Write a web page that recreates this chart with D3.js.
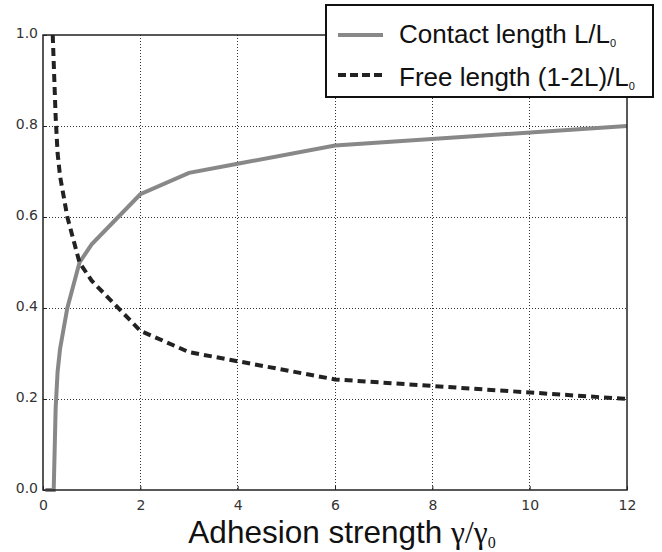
<!DOCTYPE html>
<html>
<head>
<meta charset="utf-8">
<script src="https://cdn.jsdelivr.net/npm/d3@7"></script>
<style>
  body { margin: 0; background: #fff; }
  svg { display: block; }
</style>
</head>
<body>
<svg id="chart" width="662" height="552"></svg>
<script>
// adhesion strength gamma/gamma0 (x values)
const gamma = [0.05, 0.22, 0.26, 0.3, 0.35, 0.5, 0.75, 1, 2, 3, 4, 6, 12];
// contact length L/L0
const contact = [0, 0, 0.18, 0.26, 0.31, 0.40, 0.50, 0.54, 0.65, 0.697, 0.717, 0.757, 0.80];
// free length (1-2L)/L0
const freeGamma = [0.2, 0.26, 0.3, 0.35, 0.5, 0.75, 1, 2, 3, 4, 6, 12];
const freeLen = [1.0, 0.82, 0.74, 0.69, 0.60, 0.50, 0.46, 0.35, 0.303, 0.283, 0.243, 0.20];

const xTicks = [0, 2, 4, 6, 8, 10, 12];
const yTicks = [0, 0.2, 0.4, 0.6, 0.8, 1.0];

const svg = d3.select("#chart");

// plot area
const box = {left: 43, right: 627, top: 35, bottom: 490};

const x = d3.scaleLinear().domain([0, 12]).range([box.left, box.right]);
const y = d3.scaleLinear().domain([0, 1]).range([box.bottom, box.top]);

// grid lines (dotted)
const grid = svg.append("g").attr("class", "grid")
  .attr("shape-rendering", "crispEdges");
grid.selectAll("line.gx")
  .data(xTicks.slice(1, -1))
  .join("line")
  .attr("x1", d => x(d)).attr("x2", d => x(d))
  .attr("y1", box.top).attr("y2", box.bottom)
  .attr("stroke", "#333").attr("stroke-width", 1)
  .attr("stroke-dasharray", "1,2");
grid.selectAll("line.gy")
  .data(yTicks.slice(1, -1))
  .join("line")
  .attr("x1", box.left).attr("x2", box.right)
  .attr("y1", d => y(d)).attr("y2", d => y(d))
  .attr("stroke", "#333").attr("stroke-width", 1)
  .attr("stroke-dasharray", "1,2");

// axes: ticks pointing inward, labels outside
const xAxis = d3.axisBottom(x).tickValues(xTicks).tickSize(-4).tickPadding(10)
  .tickFormat(d3.format("d"));
const yAxis = d3.axisLeft(y).tickValues(yTicks).tickSize(-4).tickPadding(5)
  .tickFormat(d3.format(".1f"));

const gx = svg.append("g").attr("transform", `translate(0,${box.bottom})`).call(xAxis);
const gy = svg.append("g").attr("transform", `translate(${box.left},0)`).call(yAxis);

[gx, gy].forEach(g => {
  g.select(".domain").remove();
  g.selectAll(".tick line").attr("stroke", "#222");
  g.selectAll(".tick text")
    .attr("fill", "#333")
    .style("font-family", "DejaVu Sans, sans-serif")
    .style("font-size", "14px");
});
gy.selectAll(".tick text").attr("dy", "0.2em");

// lines
const line = d3.line().x(d => x(d[0])).y(d => y(d[1]));

svg.append("path")
  .datum(d3.zip(gamma, contact))
  .attr("d", line)
  .attr("fill", "none")
  .attr("stroke", "#888")
  .attr("stroke-width", 4);

svg.append("path")
  .datum(d3.zip(freeGamma, freeLen))
  .attr("d", line)
  .attr("fill", "none")
  .attr("stroke", "#222")
  .attr("stroke-width", 4)
  .attr("stroke-dasharray", "8,5");

// frame
svg.append("rect")
  .attr("x", box.left).attr("y", box.top)
  .attr("width", box.right - box.left).attr("height", box.bottom - box.top)
  .attr("fill", "none").attr("stroke", "#222").attr("stroke-width", 1.5);

// x axis title
const title = svg.append("text")
  .attr("x", 342).attr("y", 543)
  .attr("text-anchor", "middle")
  .attr("fill", "#111")
  .style("font-family", "Liberation Sans, Arial, sans-serif")
  .style("font-size", "31.5px");
title.append("tspan").text("Adhesion strength ");
title.append("tspan").text("γ/γ").style("font-family", "Liberation Serif, serif");
title.append("tspan").text("0").attr("dy", 5).style("font-size", "16px")
  .style("font-family", "Liberation Serif, serif");

// legend
const legend = svg.append("g");
legend.append("rect")
  .attr("x", 326).attr("y", 5).attr("width", 327).attr("height", 92)
  .attr("fill", "#fff").attr("stroke", "#111").attr("stroke-width", 2);

const items = [
  {name: "Contact length L/L", color: "#888", dash: null, y: 35, base: 43},
  {name: "Free length (1-2L)/L", color: "#222", dash: "8,4", y: 75, base: 86}
];
items.forEach(it => {
  legend.append("line")
    .attr("x1", 338).attr("x2", 383).attr("y1", it.y).attr("y2", it.y)
    .attr("stroke", it.color).attr("stroke-width", 4)
    .attr("stroke-dasharray", it.dash);
  const t = legend.append("text")
    .attr("x", 399).attr("y", it.base)
    .attr("fill", "#111")
    .style("font-family", "Liberation Sans, Arial, sans-serif")
    .style("font-size", "26px");
  t.append("tspan").text(it.name);
  t.append("tspan").text("0").attr("dy", 4).style("font-size", "11px");
});
</script>
</body>
</html>
